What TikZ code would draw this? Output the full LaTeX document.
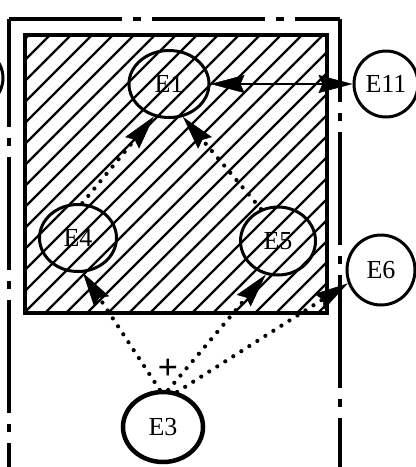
\documentclass[tikz,border=0pt]{standalone}
\usepackage{fontspec}
\setmainfont{Liberation Serif}
\usetikzlibrary{arrows.meta,shapes.geometric}
\begin{document}
\begin{tikzpicture}[x=1pt,y=-1pt,
  ent/.style={ellipse,draw,line width=3pt,inner sep=0pt,font=\fontsize{26}{26}\selectfont},
  bigtip/.tip={Stealth[length=34pt,width=18pt,inset=4pt,line width=0.5pt]},
  dots/.style={line width=4.2pt,line cap=round,dash pattern=on 0pt off 9.5pt,-{bigtip}},
  border/.style={line width=3.2pt,dash pattern=on 113pt off 11pt on 8pt off 11pt},
  hatch/.style={line width=2.2pt}
]
\useasboundingbox (0,0) rectangle (416,467);
% hatched area
\begin{scope}
  \clip (25,35) rectangle (327,313);
  \foreach \i in {-15,...,27} \draw[hatch] ({50+21*\i-300},335) -- ({50+21*\i+22},13);
\end{scope}
\draw[line width=3.5pt] (25,35) rectangle (327,313);
% outer dash-dot border
\draw[border,dash phase=5pt] (9,19) -- (9,480);
\draw[border] (9,19) -- (340,19);
\draw[border,dash phase=30pt] (340,19) -- (340,480);
% partial entity at the left edge
\draw[line width=3pt] (-35,78) ellipse [x radius=38, y radius=33];
% entities
\node[ent,minimum width=80pt,minimum height=67pt] (E1) at (169,84) {E1};
\node[ent,minimum width=64pt,minimum height=66pt] (E11) at (386,84) {E11};
\node[ent,minimum width=77pt,minimum height=67pt] (E4) at (78,238) {E4};
\node[ent,minimum width=75pt,minimum height=68pt] (E5) at (278,241) {E5};
\node[ent,minimum width=68pt,minimum height=70pt] (E6) at (381,270) {E6};
\node[ent,line width=4.5pt,minimum width=80pt,minimum height=70pt] (E3) at (163,427) {E3};
\node[font=\fontsize{36}{36}\selectfont\bfseries] (plus) at (168,369) {+};
% connectors
\draw[line width=2pt,{bigtip}-{bigtip}] (E1.east) -- (E11.west);
\draw[dots] (E4.83) -- (E1.245);
\draw[dots] (E5.118) -- (E1.293);
\draw[dots] (E3.95) -- (E4.278);
\draw[dots] (E3.82) -- (E5.250);
\draw[dots] (E3.68) -- (E6.202);
\end{tikzpicture}
\end{document}
